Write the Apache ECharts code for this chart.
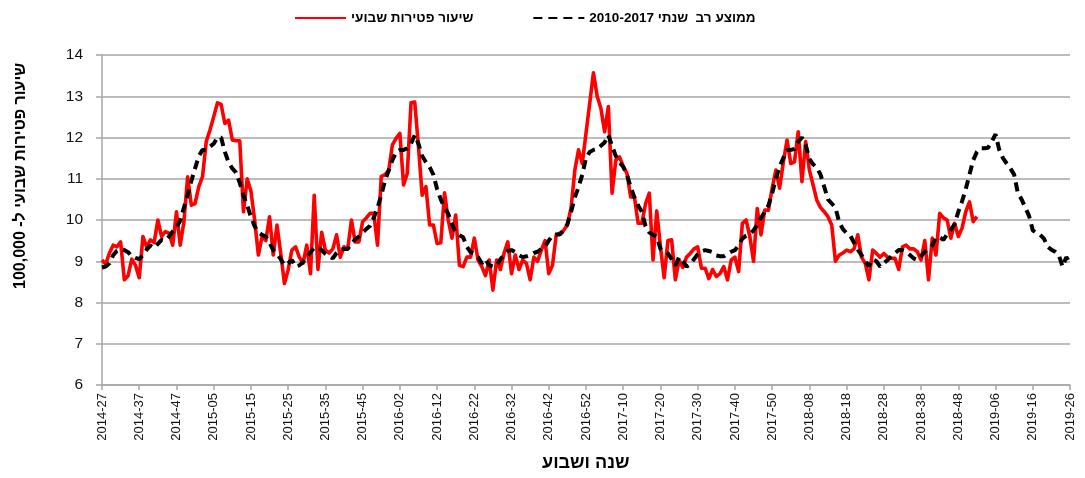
<!DOCTYPE html>
<html>
<head>
<meta charset="utf-8">
<script src="https://cdn.jsdelivr.net/npm/echarts@6/dist/echarts.min.js"></script>
<style>
html,body{margin:0;padding:0;background:#fff;}
#chart{width:1085px;height:478px;}
</style>
</head>
<body>
<div id="chart"></div>
<script>
// Week counts per year (ISO-like weeks used by the source)
const weeksInYear = {2014: 52, 2015: 53, 2016: 52, 2017: 52, 2018: 52, 2019: 52};
const startYear = 2014, startWeek = 27, endYear = 2019, endWeek = 26;

// Category labels: year-week from 2014-27 to 2019-26
const categories = [];
{
  let y = startYear, w = startWeek;
  while (true) {
    categories.push(y + '-' + (w < 10 ? '0' + w : '' + w));
    if (y === endYear && w === endWeek) break;
    w++;
    if (w > weeksInYear[y]) { w = 1; y++; }
  }
}

const yTicks = [6, 7, 8, 9, 10, 11, 12, 13, 14];

const seriesNames = ['שיעור פטירות שבועי', '\u202Bממוצע רב  שנתי 2010-2017\u202C'];

// Weekly death rate per 100,000 (2014-27 .. 2019-01)
const weeklyRate = [
  9.03, 8.93, 9.20, 9.39, 9.35, 9.47, 8.55, 8.65, 9.05, 8.90,
  8.60, 9.60, 9.35, 9.52, 9.45, 10.00, 9.60, 9.72, 9.68, 9.39,
  10.20, 9.39, 9.95, 11.05, 10.36, 10.40, 10.81, 11.05, 11.90, 12.18,
  12.50, 12.84, 12.80, 12.34, 12.42, 11.94, 11.92, 11.92, 10.20, 11.00,
  10.70, 10.00, 9.15, 9.60, 9.50, 10.08, 9.15, 9.88, 9.20, 8.46,
  8.79, 9.27, 9.35, 9.10, 8.95, 9.39, 8.70, 10.60, 8.80, 9.70,
  9.27, 9.20, 9.30, 9.64, 9.10, 9.35, 9.30, 10.00, 9.47, 9.47,
  9.96, 10.05, 10.16, 10.16, 9.39, 11.05, 11.10, 11.20, 11.82, 11.98,
  12.10, 10.85, 11.13, 12.84, 12.86, 11.78, 10.60, 10.81, 9.88, 9.88,
  9.43, 9.45, 10.66, 10.00, 9.56, 10.12, 8.90, 8.87, 9.10, 9.10,
  9.56, 9.03, 8.87, 8.65, 9.03, 8.30, 9.03, 8.80, 9.20, 9.47,
  8.70, 9.15, 8.80, 9.03, 8.95, 8.55, 9.10, 9.00, 9.27, 9.50,
  8.70, 8.90, 9.64, 9.68, 9.75, 9.88, 10.30, 11.21, 11.70, 11.37,
  12.10, 12.83, 13.57, 13.00, 12.71, 12.14, 12.75, 10.65, 11.45, 11.53,
  11.30, 11.13, 10.56, 10.56, 9.92, 9.92, 10.40, 10.65, 9.03, 10.22,
  9.35, 8.60, 9.50, 9.52, 8.55, 9.03, 8.85, 9.10, 9.19, 9.30,
  9.35, 8.83, 8.83, 8.58, 8.80, 8.63, 8.70, 8.87, 8.55, 9.03,
  9.10, 8.75, 9.92, 10.00, 9.60, 9.00, 10.28, 9.64, 10.24, 10.24,
  10.77, 11.21, 10.77, 11.40, 11.94, 11.37, 11.41, 12.14, 10.93, 11.90,
  11.21, 10.85, 10.48, 10.30, 10.20, 10.08, 9.88, 9.00, 9.15, 9.20,
  9.27, 9.23, 9.30, 9.64, 9.10, 8.95, 8.55, 9.27, 9.19, 9.10,
  9.19, 9.10, 9.07, 9.07, 8.80, 9.35, 9.39, 9.30, 9.30, 9.23,
  9.03, 9.50, 8.55, 9.56, 9.15, 10.16, 10.05, 10.00, 9.56, 9.92,
  9.60, 9.80, 10.20, 10.44, 9.96, 10.08
];

// Multi-year average 2010-2017 (2014-27 .. 2019-26)
const multiYearAvg = [
  8.85, 8.87, 8.95, 9.15, 9.25, 9.30, 9.27, 9.22, 9.12, 9.08,
  9.05, 9.15, 9.28, 9.38, 9.32, 9.42, 9.52, 9.50, 9.60, 9.72,
  9.82, 9.98, 10.30, 10.60, 10.95, 11.25, 11.55, 11.70, 11.70, 11.78,
  11.85, 12.00, 12.00, 11.65, 11.40, 11.25, 11.15, 10.90, 10.60, 10.35,
  10.08, 9.85, 9.70, 9.64, 9.60, 9.45, 9.27, 9.18, 9.05, 8.90,
  8.95, 9.03, 8.87, 8.90, 8.98, 9.10, 9.22, 9.33, 9.33, 9.27,
  9.18, 9.12, 9.07, 9.20, 9.28, 9.30, 9.30, 9.42, 9.53, 9.60,
  9.70, 9.78, 9.86, 10.05, 10.30, 10.60, 10.95, 11.20, 11.45, 11.65,
  11.70, 11.70, 11.74, 11.85, 12.06, 11.85, 11.55, 11.40, 11.28, 11.10,
  10.75, 10.50, 10.30, 10.15, 9.90, 9.70, 9.63, 9.58, 9.35, 9.22,
  9.19, 9.10, 8.95, 9.05, 8.90, 8.87, 8.90, 9.05, 9.15, 9.25,
  9.27, 9.22, 9.15, 9.10, 9.12, 9.15, 9.20, 9.23, 9.30, 9.36,
  9.50, 9.63, 9.65, 9.65, 9.74, 9.90, 10.20, 10.55, 10.80, 11.10,
  11.50, 11.65, 11.70, 11.72, 11.80, 11.88, 12.06, 11.80, 11.55, 11.40,
  11.29, 11.10, 10.80, 10.55, 10.35, 10.20, 9.85, 9.70, 9.64, 9.60,
  9.30, 9.22, 9.19, 9.05, 8.90, 9.10, 9.00, 8.87, 8.92, 9.05,
  9.17, 9.24, 9.27, 9.25, 9.22, 9.14, 9.12, 9.12, 9.18, 9.23,
  9.27, 9.38, 9.55, 9.62, 9.66, 9.75, 9.88, 10.05, 10.20, 10.35,
  10.65, 11.00, 11.30, 11.50, 11.70, 11.70, 11.72, 11.90, 12.00, 11.82,
  11.48, 11.35, 11.27, 11.10, 10.80, 10.50, 10.40, 10.30, 9.95, 9.78,
  9.68, 9.62, 9.45, 9.28, 9.15, 9.00, 8.88, 9.05, 9.00, 8.87,
  8.95, 9.03, 9.12, 9.20, 9.27, 9.27, 9.23, 9.15, 9.07, 9.03,
  9.12, 9.23, 9.30, 9.38, 9.58, 9.58, 9.52, 9.65, 9.76, 9.90,
  10.20, 10.45, 10.75, 11.10, 11.45, 11.65, 11.74, 11.74, 11.75, 11.90,
  12.08, 11.70, 11.50, 11.37, 11.25, 11.10, 10.65, 10.50, 10.30, 10.10,
  9.75, 9.68, 9.64, 9.55, 9.35, 9.28, 9.23, 9.15, 8.87, 9.10,
  8.95
];

const xTitle = 'שנה ושבוע';
const yTitle = '\u202Bשיעור פטירות שבועי ל- 100,000\u202C';

const chart = echarts.init(document.getElementById('chart'), null, {renderer: 'canvas'});
const FONT = '"Liberation Sans", Arial, sans-serif';
const GRID_COLOR = '#a6a6a6';

chart.setOption({
  animation: false,
  backgroundColor: '#ffffff',
  textStyle: {fontFamily: FONT},
  legend: {
    left: 294,
    top: 11,
    padding: 0,
    itemWidth: 51,
    itemHeight: 14,
    itemGap: 59,
    itemStyle: {opacity: 0},
    textStyle: {fontFamily: FONT, fontSize: 13.5, fontWeight: 'bold', color: '#000'},
    data: seriesNames
  },
  grid: {left: 102, right: 15, top: 55, bottom: 93, containLabel: false},
  xAxis: {
    type: 'category',
    data: categories,
    boundaryGap: false,
    axisLine: {show: true, lineStyle: {color: GRID_COLOR, width: 1.5}},
    axisTick: {show: true, interval: 9, length: 5, lineStyle: {color: GRID_COLOR, width: 1.5}},
    axisLabel: {interval: 9, rotate: 90, margin: 8, fontSize: 13, color: '#111', fontFamily: FONT},
    splitLine: {show: false}
  },
  yAxis: {
    type: 'value',
    min: yTicks[0],
    max: yTicks[yTicks.length - 1],
    interval: 1,
    axisLine: {show: true, lineStyle: {color: GRID_COLOR, width: 1.5}},
    axisTick: {show: true, length: 6, lineStyle: {color: GRID_COLOR, width: 1.5}},
    axisLabel: {margin: 19, fontSize: 15.5, color: '#111', fontFamily: FONT},
    splitLine: {show: true, lineStyle: {color: GRID_COLOR, width: 1.5}}
  },
  graphic: [
    {type: 'text', left: 542, top: 454, style: {text: xTitle, font: 'bold 18px ' + FONT, fill: '#000'}},
    {type: 'text', x: 21, y: 289, rotation: Math.PI / 2, style: {text: yTitle, font: 'bold 16px ' + FONT, fill: '#000', textAlign: 'left', textVerticalAlign: 'middle'}}
  ],
  series: [
    {
      name: seriesNames[0],
      type: 'line',
      data: weeklyRate,
      symbol: 'none',
      lineStyle: {color: '#ff0000', width: 3.6, join: 'round'},
      itemStyle: {color: '#ff0000'},
      z: 2
    },
    {
      name: seriesNames[1],
      type: 'line',
      data: multiYearAvg,
      symbol: 'none',
      lineStyle: {color: '#000000', width: 4, type: [9, 6]},
      itemStyle: {color: '#000000'},
      z: 3
    }
  ]
});
</script>
</body>
</html>
